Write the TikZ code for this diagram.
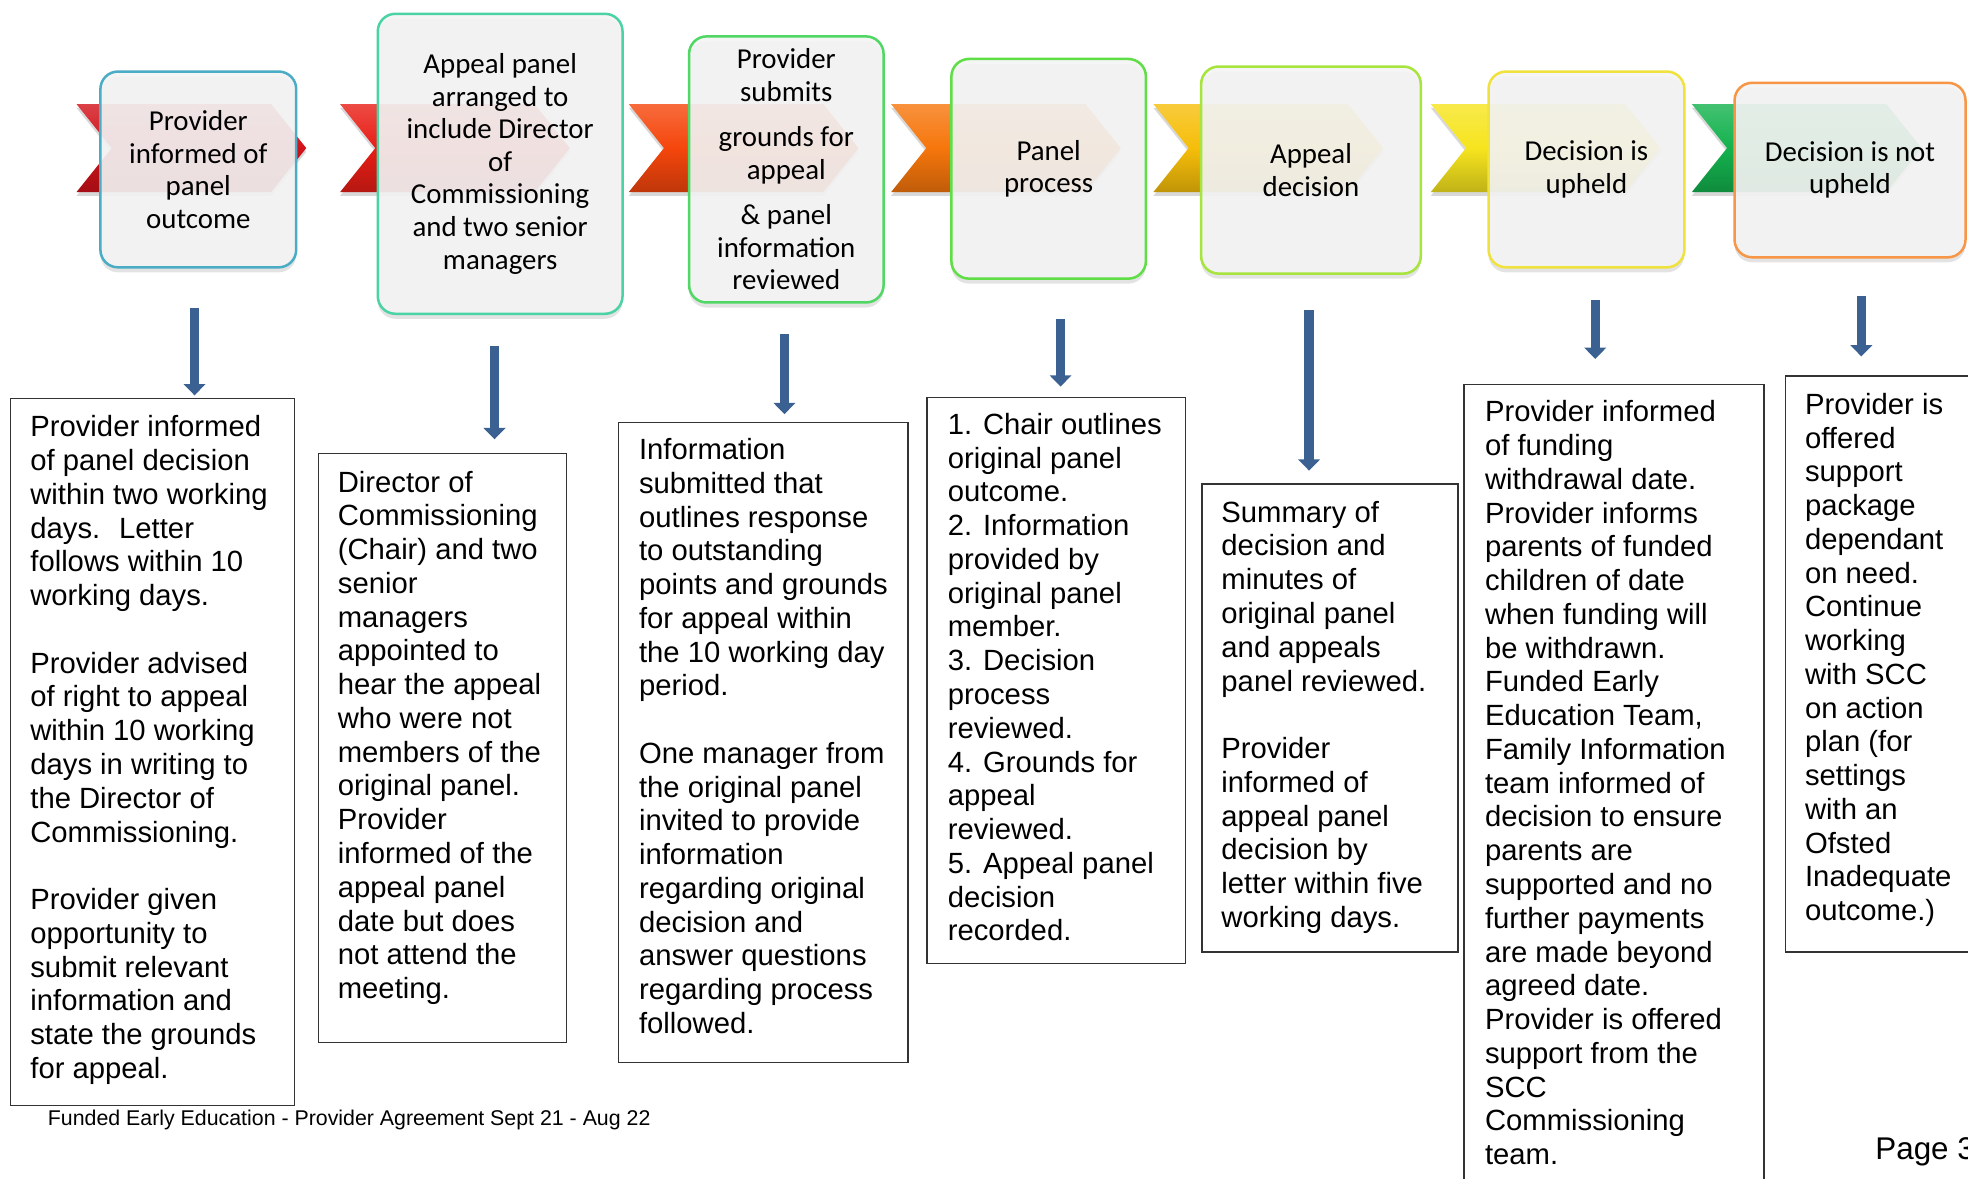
\documentclass[tikz,border=0pt]{standalone}
\usepackage{fontspec}
\setmainfont{Liberation Sans}
\newfontfamily\calibrifont{Carlito}
\usetikzlibrary{arrows.meta,shadows}
\definecolor{cvA}{RGB}{210,18,26}
\definecolor{cvB}{RGB}{232,30,22}
\definecolor{cvC}{RGB}{245,70,12}
\definecolor{cvD}{RGB}{246,118,12}
\definecolor{cvE}{RGB}{246,190,10}
\definecolor{cvF}{RGB}{246,228,30}
\definecolor{cvG}{RGB}{20,178,78}
\definecolor{bdA}{RGB}{75,172,198}
\definecolor{bdB}{RGB}{75,210,165}
\definecolor{bdC}{RGB}{80,215,100}
\definecolor{bdD}{RGB}{95,222,70}
\definecolor{bdE}{RGB}{168,228,62}
\definecolor{bdF}{RGB}{240,226,62}
\definecolor{bdG}{RGB}{247,150,70}
\definecolor{boxfill}{RGB}{244,244,244}
\definecolor{arrowblue}{RGB}{58,97,145}
\newcommand{\chevpath}[1]{(#1,83) -- ++(155,0) -- ++(28,35) -- ++(-28,35) -- ++(-155,0) -- ++(28,-35) -- cycle}
\begin{document}
\begin{tikzpicture}[x=1pt,y=-1pt,
  chev/.style={top color=#1!80!white, bottom color=#1!78!black, middle color=#1,
    drop shadow={shadow xshift=0pt,shadow yshift=-3pt,opacity=0.3}},
  topbox/.style={draw=#1, line width=2pt, rounded corners=14pt, fill=boxfill,
    fill opacity=0.9, text opacity=1, align=center, inner sep=0pt,
    font=\calibrifont\fontsize{23}{26}\selectfont,
    drop shadow={shadow xshift=0pt,shadow yshift=-4pt,opacity=0.22}},
  txtbox/.style={draw=black!80, line width=1.1pt},
  body/.style={anchor=north west, align=left, inner sep=0pt,
    font=\fontsize{23.3}{26.9}\selectfont},
  downarrow/.style={draw=arrowblue, line width=7.5pt,
    -{Triangle[width=17pt,length=9pt]}},
]
\useasboundingbox (0,0) rectangle (1568,939);
\fill[white] (0,0) rectangle (1568,939);

% stage 1
\shade[chev=cvA] \chevpath{61};
\node[topbox=bdA, minimum width=156pt, minimum height=156pt] (s1) at (158,135)
  {Provider\\informed of\\panel\\outcome};
% stage 2
\shade[chev=cvB] \chevpath{271};
\node[topbox=bdB, minimum width=195pt, minimum height=239pt] (s2) at (398.5,130.5)
  {Appeal panel\\arranged to\\include Director\\of\\Commissioning\\and two senior\\managers};
% stage 3
\shade[chev=cvC] \chevpath{501};
\node[topbox=bdC, minimum width=155pt, minimum height=212pt] (s3) at (626.5,135)
  {Provider\\submits\\[10pt]grounds for\\appeal\\[10pt]\& panel\\information\\reviewed};
% stage 4
\shade[chev=cvD] \chevpath{710};
\node[topbox=bdD, minimum width=155pt, minimum height=175pt] (s4) at (835.5,134.5)
  {Panel\\process};
% stage 5
\shade[chev=cvE] \chevpath{919};
\node[topbox=bdE, minimum width=175pt, minimum height=165pt] (s5) at (1044.5,135.5)
  {Appeal\\decision};
% stage 6
\shade[chev=cvF] \chevpath{1140};
\node[topbox=bdF, minimum width=156pt, minimum height=156pt] (s6) at (1264,135)
  {Decision is\\upheld};
% stage 7
\shade[chev=cvG] \chevpath{1348};
\node[topbox=bdG, minimum width=184pt, minimum height=139pt] (s7) at (1474,135.5)
  {Decision is not\\upheld};

% text boxes
\node[txtbox, anchor=north west, minimum width=226pt, minimum height=563pt] (t1) at (8,317) {};
\node[txtbox, anchor=north west, minimum width=198pt, minimum height=469pt] (t2) at (253,361) {};
\node[txtbox, anchor=north west, minimum width=231pt, minimum height=510pt] (t3) at (492,336) {};
\node[txtbox, anchor=north west, minimum width=206pt, minimum height=451pt] (t4) at (738,316) {};
\node[txtbox, anchor=north west, minimum width=204pt, minimum height=373pt] (t5) at (957,385) {};
\node[txtbox, anchor=north west, minimum width=239pt, minimum height=645pt] (t6) at (1166,306) {};
\node[txtbox, anchor=north west, minimum width=160pt, minimum height=459pt] (t7) at (1422,299) {};

\node[body] (x1) at (24,331) {Provider informed\\of panel decision\\within two working\\days.~ Letter\\follows within 10\\working days.\\[26.9pt]Provider advised\\of right to appeal\\within 10 working\\days in writing to\\the Director of\\Commissioning.\\[26.9pt]Provider given\\opportunity to\\submit relevant\\information and\\state the grounds\\for appeal.};
\node[body] (x2) at (269,375) {Director of\\Commissioning\\(Chair) and two\\senior\\managers\\appointed to\\hear the appeal\\who were not\\members of the\\original panel.\\Provider\\informed of the\\appeal panel\\date but does\\not attend the\\meeting.};
\node[body] (x3) at (509,349) {Information\\submitted that\\outlines response\\to outstanding\\points and grounds\\for appeal within\\the 10 working day\\period.\\[26.9pt]One manager from\\the original panel\\invited to provide\\information\\regarding original\\decision and\\answer questions\\regarding process\\followed.};
\node[body] (x4) at (755,329) {1. Chair outlines\\original panel\\outcome.\\2. Information\\provided by\\original panel\\member.\\3. Decision\\process\\reviewed.\\4. Grounds for\\appeal\\reviewed.\\5. Appeal panel\\decision\\recorded.};
\node[body] (x5) at (973,399) {Summary of\\decision and\\minutes of\\original panel\\and appeals\\panel reviewed.\\[26.9pt]Provider\\informed of\\appeal panel\\decision by\\letter within five\\working days.};
\node[body] (x6) at (1183,319) {Provider informed\\of funding\\withdrawal date.\\Provider informs\\parents of funded\\children of date\\when funding will\\be withdrawn.\\Funded Early\\Education Team,\\Family Information\\team informed of\\decision to ensure\\parents are\\supported and no\\further payments\\are made beyond\\agreed date.\\Provider is offered\\support from the\\SCC\\Commissioning\\team.};
\node[body] (x7) at (1438,313) {Provider is\\offered\\support\\package\\dependant\\on need.\\Continue\\working\\with SCC\\on action\\plan (for\\settings\\with an\\Ofsted\\Inadequate\\outcome.)};

% arrows
\coordinate (a1s) at (155,245); \coordinate (a1e) at (155,315);
\coordinate (a2s) at (394,276); \coordinate (a2e) at (394,350);
\coordinate (a3s) at (625,266); \coordinate (a3e) at (625,330);
\coordinate (a4s) at (845,254); \coordinate (a4e) at (845,308);
\coordinate (a5s) at (1043,247); \coordinate (a5e) at (1043,375);
\coordinate (a6s) at (1271,239); \coordinate (a6e) at (1271,286);
\coordinate (a7s) at (1483,236); \coordinate (a7e) at (1483,284);
\foreach \i in {1,...,7} { \draw[downarrow] (a\i s) -- (a\i e); }

% footer
\node[anchor=base west, inner sep=0pt, font=\fontsize{17}{20}\selectfont] (foot) at (38,897)
  {Funded Early Education - Provider Agreement Sept 21 - Aug 22};
\node[anchor=base west, inner sep=0pt, font=\fontsize{25}{29}\selectfont] (page) at (1494,924)
  {Page 3};
\end{tikzpicture}
\end{document}
